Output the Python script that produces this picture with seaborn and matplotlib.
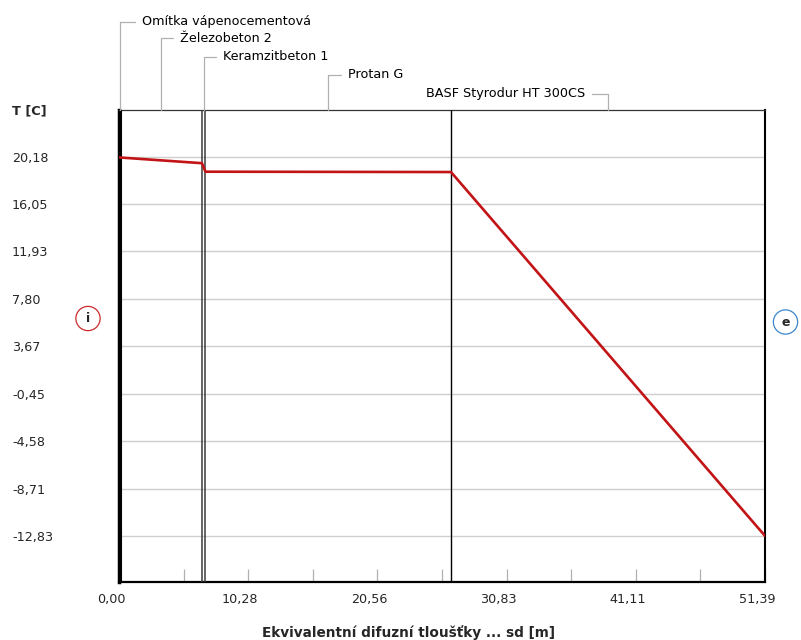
import numpy as np
import pandas as pd
import matplotlib
matplotlib.use("Agg")
import matplotlib.pyplot as plt
import seaborn as sns
from matplotlib.transforms import ScaledTranslation

# ---------------- data ----------------
layer_names = ["Omítka vápenocementová", "Železobeton 2", "Keramzitbeton 1",
               "Protan G", "BASF Styrodur HT 300CS"]
layer_bounds = [0.0, 0.15, 6.60, 6.88, 26.41, 51.39]
sd_points = [0.0, 0.15, 6.60, 6.88, 26.41, 51.39]
temp_points = [20.13, 20.10, 19.61, 18.87, 18.84, -12.83]
x_ticks = [0.00, 10.28, 20.56, 30.83, 41.11, 51.39]
x_minor = [5.14, 15.42, 25.70, 35.97, 46.25]
y_ticks = [20.18, 16.05, 11.93, 7.80, 3.67, -0.45, -4.58, -8.71, -12.83]

def fmt(v):
    return f"{v:.2f}".replace(".", ",")

# ---------------- style ----------------
sns.set_style("white")
plt.rcParams["font.family"] = ["DejaVu Sans"]
FS = 9.2

W, H = 801, 640
L, R, T, B = 119, 765, 110, 581.5
fig = plt.figure(figsize=(W / 100, H / 100), dpi=100)
ax = fig.add_axes([L / W, 1 - B / H, (R - L) / W, (B - T) / H])

df = pd.DataFrame({"sd": sd_points, "T": temp_points})
sns.lineplot(data=df, x="sd", y="T", ax=ax, color="#c21416", lw=1.9,
             sort=False, estimator=None, zorder=5)

ax.set_xlim(layer_bounds[0], layer_bounds[-1])
ax.set_ylim(-16.8, 24.24)

# layer boundaries
bound_colors = ["black", "#3a3a3a", "#3a3a3a", "black"]
bound_widths = [1.5, 1.1, 1.1, 1.0]
for b, c, w in zip(layer_bounds[1:-1], bound_colors, bound_widths):
    ax.axvline(b, color=c, lw=w, zorder=3)

# y axis
ax.set_yticks(y_ticks, [fmt(v) for v in y_ticks])
ax.yaxis.grid(True, color="#cfcfcf", lw=1.0)
ax.xaxis.grid(False)
ax.tick_params(axis="y", left=True, length=0, pad=(L - 12) * 0.72, labelsize=FS)
for lbl in ax.get_yticklabels():
    lbl.set_ha("left")

# x axis
ax.set_xticks(x_ticks, [fmt(v) for v in x_ticks])
ax.set_xticks(x_minor, minor=True)
ax.tick_params(axis="x", which="both", bottom=True, direction="in", length=9.4,
               width=0.9, color="#b0b0b0", pad=8.3, labelsize=FS)
shift = ScaledTranslation(-8 / 100, 0, fig.dpi_scale_trans)
for lbl in ax.get_xticklabels():
    lbl.set_transform(lbl.get_transform() + shift)

# spines
for side, lw, col in [("left", 2.5, "black"), ("bottom", 1.6, "black"),
                      ("right", 1.5, "black"), ("top", 0.9, "#333333")]:
    ax.spines[side].set_visible(True)
    ax.spines[side].set_linewidth(lw)
    ax.spines[side].set_color(col)

# axis titles
ax.set_xlabel("Ekvivalentní difuzní tloušťky ... sd [m]", fontsize=9.8,
              fontweight="bold", va="center")
ax.xaxis.set_label_coords((408 - L) / (R - L), (B - 633) / (B - T))
ax.set_ylabel("T [C]", fontsize=9.3, fontweight="bold", rotation=0,
              ha="left", va="center")
ax.yaxis.set_label_coords((12 - L) / (R - L), (B - 111) / (B - T))

# layer labels with leader lines
mids = [(a + b) / 2 for a, b in zip(layer_bounds[:-1], layer_bounds[1:])]
offsets = [(22, 88.5), (18.6, 72), (19.3, 53.5), (19.8, 35), (-23, 16.5)]
for name, m, (dx, dy) in zip(layer_names, mids, offsets):
    ha = "left" if dx > 0 else "right"
    ax.annotate(name, xy=(m, 1.0), xycoords=("data", "axes fraction"),
                xytext=(dx, dy), textcoords="offset pixels",
                ha=ha, va="center", fontsize=FS, color="black",
                annotation_clip=False,
                arrowprops=dict(arrowstyle="-", color="#b0b0b0", lw=0.9,
                                shrinkA=2.5, shrinkB=0,
                                relpos=(0, 0.5) if dx > 0 else (1, 0.5),
                                connectionstyle="angle,angleA=0,angleB=90,rad=0"))

# interior / exterior markers
ax.text((88 - L) / (R - L), (B - 318.5) / (B - T), "i", transform=ax.transAxes,
        ha="center", va="center", fontsize=9, fontweight="bold", clip_on=False,
        bbox=dict(boxstyle="circle,pad=0.45", fc="white", ec="#cc2a2a", lw=0.9))
ax.text((785.5 - L) / (R - L), (B - 322) / (B - T), "e", transform=ax.transAxes,
        ha="center", va="center", fontsize=9, fontweight="bold", clip_on=False,
        bbox=dict(boxstyle="circle,pad=0.45", fc="white", ec="#3c86cc", lw=0.9))

fig.savefig("out.png", dpi=100)
